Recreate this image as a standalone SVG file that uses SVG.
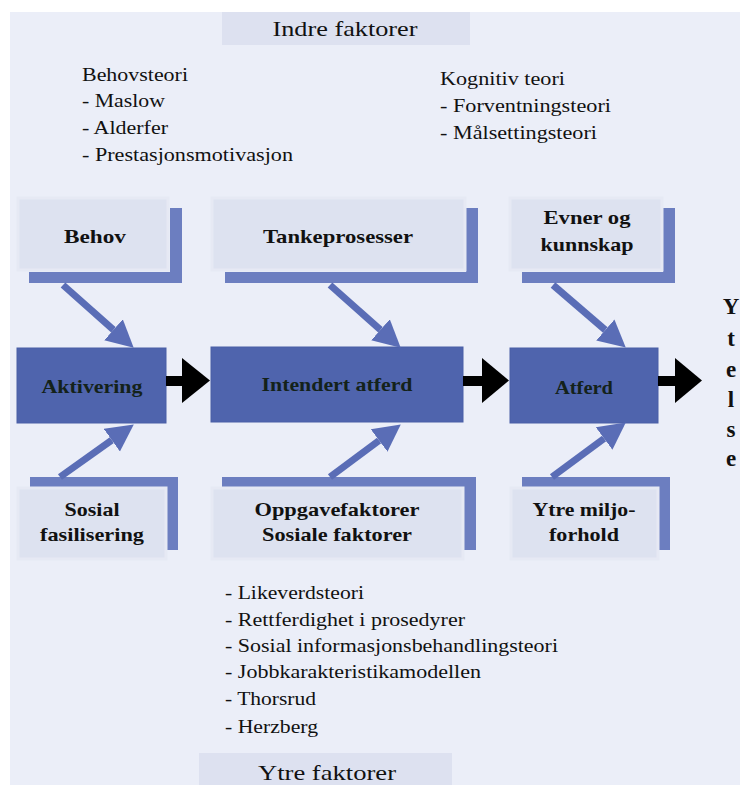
<svg xmlns="http://www.w3.org/2000/svg" width="740" height="785" viewBox="0 0 740 785">
<defs>
<marker id="bh" markerUnits="userSpaceOnUse" markerWidth="28" markerHeight="30" refX="0" refY="15" orient="auto" viewBox="0 0 28 30"><path d="M0,1 L27,15 L0,29 z" fill="#5a6db6"/></marker>
</defs>
<style>
.bg{fill:#ebeef8}
.lt{fill:#dde2f0;stroke:#e6e9f4;stroke-width:3}
.sh{fill:#6c7ec0}
.mn{fill:#4f64ad;stroke:#4a5ea6;stroke-width:1}
.t{font-family:"Liberation Serif",serif;font-size:19px;fill:#111}
.b{font-family:"Liberation Serif",serif;font-size:19px;font-weight:bold;fill:#111;text-anchor:middle}
.bm{font-family:"Liberation Serif",serif;font-size:19px;font-weight:bold;fill:#14221a;text-anchor:middle}
.h{font-family:"Liberation Serif",serif;font-size:22px;fill:#111;text-anchor:middle}
.y{font-family:"Liberation Serif",serif;font-size:23px;font-weight:bold;fill:#111;text-anchor:middle}
.ba{stroke:#5a6db6;stroke-width:7;fill:none;marker-end:url(#bh)}
.k{fill:#000}
</style>
<rect class="bg" x="10" y="12" width="730" height="773"/>

<g id="indre">
<rect x="222" y="12" width="248" height="33" fill="#dde1f0"/>
<text class="h" x="345" y="36" textLength="145" lengthAdjust="spacingAndGlyphs">Indre faktorer</text>
</g>

<g id="behovsteori">
<text class="t" x="82" y="81" textLength="106" lengthAdjust="spacingAndGlyphs">Behovsteori</text>
<text class="t" x="82" y="107" textLength="83" lengthAdjust="spacingAndGlyphs">- Maslow</text>
<text class="t" x="82" y="134" textLength="86" lengthAdjust="spacingAndGlyphs">- Alderfer</text>
<text class="t" x="82" y="161" textLength="211" lengthAdjust="spacingAndGlyphs">- Prestasjonsmotivasjon</text>
</g>

<g id="kognitiv">
<text class="t" x="440" y="85" textLength="125" lengthAdjust="spacingAndGlyphs">Kognitiv teori</text>
<text class="t" x="440" y="112" textLength="171" lengthAdjust="spacingAndGlyphs">- Forventningsteori</text>
<text class="t" x="440" y="139" textLength="157" lengthAdjust="spacingAndGlyphs">- Målsettingsteori</text>
</g>

<g id="behov">
<rect class="sh" x="170" y="208" width="12" height="75"/>
<rect class="sh" x="29" y="272" width="153" height="11"/>
<rect class="lt" x="18" y="198" width="150" height="72"/>
<text class="b" x="95" y="243" textLength="62" lengthAdjust="spacingAndGlyphs">Behov</text>
</g>

<g id="tanke">
<rect class="sh" x="466" y="208" width="12" height="75"/>
<rect class="sh" x="225" y="272" width="253" height="11"/>
<rect class="lt" x="212" y="198" width="253" height="72"/>
<text class="b" x="338" y="243" textLength="150" lengthAdjust="spacingAndGlyphs">Tankeprosesser</text>
</g>

<g id="evner">
<rect class="sh" x="663" y="208" width="12" height="75"/>
<rect class="sh" x="522" y="272" width="153" height="11"/>
<rect class="lt" x="510" y="198" width="152" height="72"/>
<text class="b" x="587" y="224" textLength="87" lengthAdjust="spacingAndGlyphs">Evner og</text>
<text class="b" x="587" y="251" textLength="93" lengthAdjust="spacingAndGlyphs">kunnskap</text>
</g>

<g id="aktivering">
<rect class="mn" x="17" y="348" width="149" height="75"/>
<text class="bm" x="92" y="393" textLength="101" lengthAdjust="spacingAndGlyphs">Aktivering</text>
</g>

<g id="intendert">
<rect class="mn" x="211" y="347" width="252" height="75"/>
<text class="bm" x="337" y="391" textLength="151" lengthAdjust="spacingAndGlyphs">Intendert atferd</text>
</g>

<g id="atferd">
<rect class="mn" x="510" y="348" width="148" height="75"/>
<text class="bm" x="584" y="394" textLength="58" lengthAdjust="spacingAndGlyphs">Atferd</text>
</g>

<g id="sosial">
<rect class="sh" x="30" y="477" width="148" height="11"/>
<rect class="sh" x="167" y="477" width="11" height="73"/>
<rect class="lt" x="18" y="488" width="148" height="71"/>
<text class="b" x="92" y="516" textLength="55" lengthAdjust="spacingAndGlyphs">Sosial</text>
<text class="b" x="92" y="541" textLength="104" lengthAdjust="spacingAndGlyphs">fasilisering</text>
</g>

<g id="oppgave">
<rect class="sh" x="222" y="477" width="254" height="11"/>
<rect class="sh" x="464" y="477" width="12" height="73"/>
<rect class="lt" x="212" y="488" width="251" height="71"/>
<text class="b" x="337" y="516" textLength="165" lengthAdjust="spacingAndGlyphs">Oppgavefaktorer</text>
<text class="b" x="337" y="541" textLength="150" lengthAdjust="spacingAndGlyphs">Sosiale faktorer</text>
</g>

<g id="ytre-miljo">
<rect class="sh" x="522" y="477" width="148" height="11"/>
<rect class="sh" x="658" y="477" width="12" height="73"/>
<rect class="lt" x="511" y="488" width="147" height="71"/>
<text class="b" x="584" y="516" textLength="103" lengthAdjust="spacingAndGlyphs">Ytre miljo-</text>
<text class="b" x="584" y="541" textLength="70" lengthAdjust="spacingAndGlyphs">forhold</text>
</g>

<g id="ytelse">
<text class="y" x="731" y="314">Y</text>
<text class="y" x="731" y="346">t</text>
<text class="y" x="731" y="377">e</text>
<text class="y" x="731" y="407">l</text>
<text class="y" x="731" y="437">s</text>
<text class="y" x="731" y="466">e</text>
</g>

<g id="ytre-teorier">
<text class="t" x="225" y="599" textLength="139" lengthAdjust="spacingAndGlyphs">- Likeverdsteori</text>
<text class="t" x="225" y="626" textLength="240" lengthAdjust="spacingAndGlyphs">- Rettferdighet i prosedyrer</text>
<text class="t" x="225" y="652" textLength="333" lengthAdjust="spacingAndGlyphs">- Sosial informasjonsbehandlingsteori</text>
<text class="t" x="225" y="678" textLength="256" lengthAdjust="spacingAndGlyphs">- Jobbkarakteristikamodellen</text>
<text class="t" x="225" y="705" textLength="91" lengthAdjust="spacingAndGlyphs">- Thorsrud</text>
<text class="t" x="225" y="733" textLength="93" lengthAdjust="spacingAndGlyphs">- Herzberg</text>
</g>

<g id="ytre">
<rect x="199" y="753" width="253" height="32" fill="#dde1f0"/>
<text class="h" x="327" y="780" textLength="138" lengthAdjust="spacingAndGlyphs">Ytre faktorer</text>
</g>

<g id="connectors">
<line class="ba" x1="63" y1="285" x2="113.5" y2="329.8"/>
<line class="ba" x1="330" y1="285" x2="380.5" y2="329.8"/>
<line class="ba" x1="553" y1="285" x2="605.3" y2="330"/>
<line class="ba" x1="60" y1="477" x2="111.8" y2="440.1"/>
<line class="ba" x1="330" y1="477" x2="379.1" y2="440.5"/>
<line class="ba" x1="552" y1="477" x2="604.1" y2="438.5"/>
<rect class="k" x="166" y="376" width="18" height="10"/>
<polygon class="k" points="182,358 210,380.5 182,403"/>
<rect class="k" x="463" y="376" width="21" height="10"/>
<polygon class="k" points="482,358 509,380.5 482,403"/>
<rect class="k" x="658" y="376" width="19" height="10"/>
<polygon class="k" points="675,358 702,380.5 675,403"/>
</g>
</svg>
